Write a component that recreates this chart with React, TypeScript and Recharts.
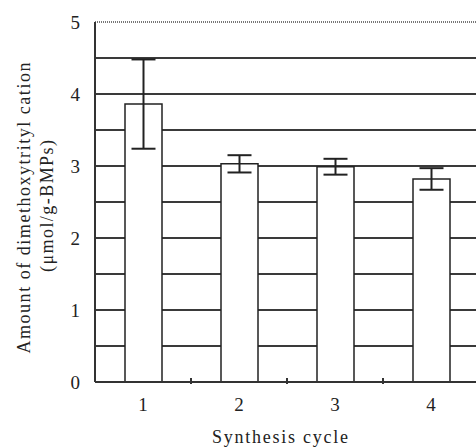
import { Bar, BarChart, CartesianGrid, ErrorBar, Label, ReferenceLine, XAxis, YAxis } from "recharts";

const cycles = ["1", "2", "3", "4", "5"];
const amounts = [3.86, 3.03, 2.99, 2.82, null];
const errors = [0.62, 0.12, 0.11, 0.15, null];
const yTicks = [0, 1, 2, 3, 4, 5];
const gridValues = [0.5, 1, 1.5, 2, 2.5, 3, 3.5, 4, 4.5];

const data = cycles.map((c, i) => ({ cycle: c, amount: amounts[i], err: errors[i] }));

const FONT = "Liberation Serif, DejaVu Serif, serif";
const BAND = 96;

function XTick({ x, y, payload }: any) {
  return (
    <g>
      {amounts[payload.index] != null && (
        <text x={x} y={y + 27} textAnchor="middle" fontFamily={FONT} fontSize={19} fill="#222">
          {payload.value}
        </text>
      )}
      <line x1={x + BAND / 2} x2={x + BAND / 2} y1={y} y2={y - 6} stroke="#333" strokeWidth={2} />
    </g>
  );
}

function YTick({ x, y, payload }: any) {
  return (
    <text x={x} y={y + 6.5} textAnchor="end" fontFamily={FONT} fontSize={19} fill="#222">
      {payload.value}
    </text>
  );
}

function YTitle() {
  return (
    <g fontFamily={FONT} fontSize={18} fill="#222">
      <text
        x={24}
        y={208}
        transform="rotate(-90 24 208)"
        textAnchor="middle"
        dominantBaseline="central"
        textLength={291}
        lengthAdjust="spacing"
      >
        Amount of dimethoxytrityl cation
      </text>
      <text
        x={47}
        y={206}
        transform="rotate(-90 47 206)"
        textAnchor="middle"
        dominantBaseline="central"
        textLength={132}
        lengthAdjust="spacing"
      >
        (μmol/g-BMPs)
      </text>
    </g>
  );
}

function XTitle() {
  return (
    <text
      x={280}
      y={443}
      textAnchor="middle"
      textLength={136}
      lengthAdjust="spacing"
      fontFamily={FONT}
      fontSize={18}
      fill="#222"
    >
      Synthesis cycle
    </text>
  );
}

export default function App() {
  return (
    <div
      style={{
        position: "absolute",
        left: 0,
        top: 0,
        width: 476,
        height: 448,
        overflow: "hidden",
        background: "#fff",
        fontFamily: FONT,
      }}
    >
      <BarChart
        width={580}
        height={448}
        data={data}
        margin={{ top: 22, right: 5, bottom: 0, left: 0 }}
        barCategoryGap={0}
      >
        <CartesianGrid
          vertical={false}
          horizontalValues={gridValues}
          stroke="#3a3a3a"
          strokeWidth={2}
        />
        <ReferenceLine y={5} stroke="#777" strokeWidth={2} strokeDasharray="1 1" />
        <XAxis
          dataKey="cycle"
          height={66}
          axisLine={{ stroke: "#333", strokeWidth: 2 }}
          tickLine={false}
          tickSize={0}
          tick={<XTick />}
          interval={0}
        >
          <Label content={<XTitle />} />
        </XAxis>
        <YAxis
          width={95}
          domain={[0, 5]}
          ticks={yTicks}
          axisLine={{ stroke: "#333", strokeWidth: 2 }}
          tickLine={false}
          tickSize={0}
          tickMargin={15}
          tick={<YTick />}
        >
          <Label content={<YTitle />} />
        </YAxis>
        <Bar
          dataKey="amount"
          fill="#fff"
          stroke="#222"
          strokeWidth={1.5}
          barSize={37}
          isAnimationActive={false}
        >
          <ErrorBar dataKey="err" width={12} stroke="#222" strokeWidth={2} />
        </Bar>
      </BarChart>
    </div>
  );
}
